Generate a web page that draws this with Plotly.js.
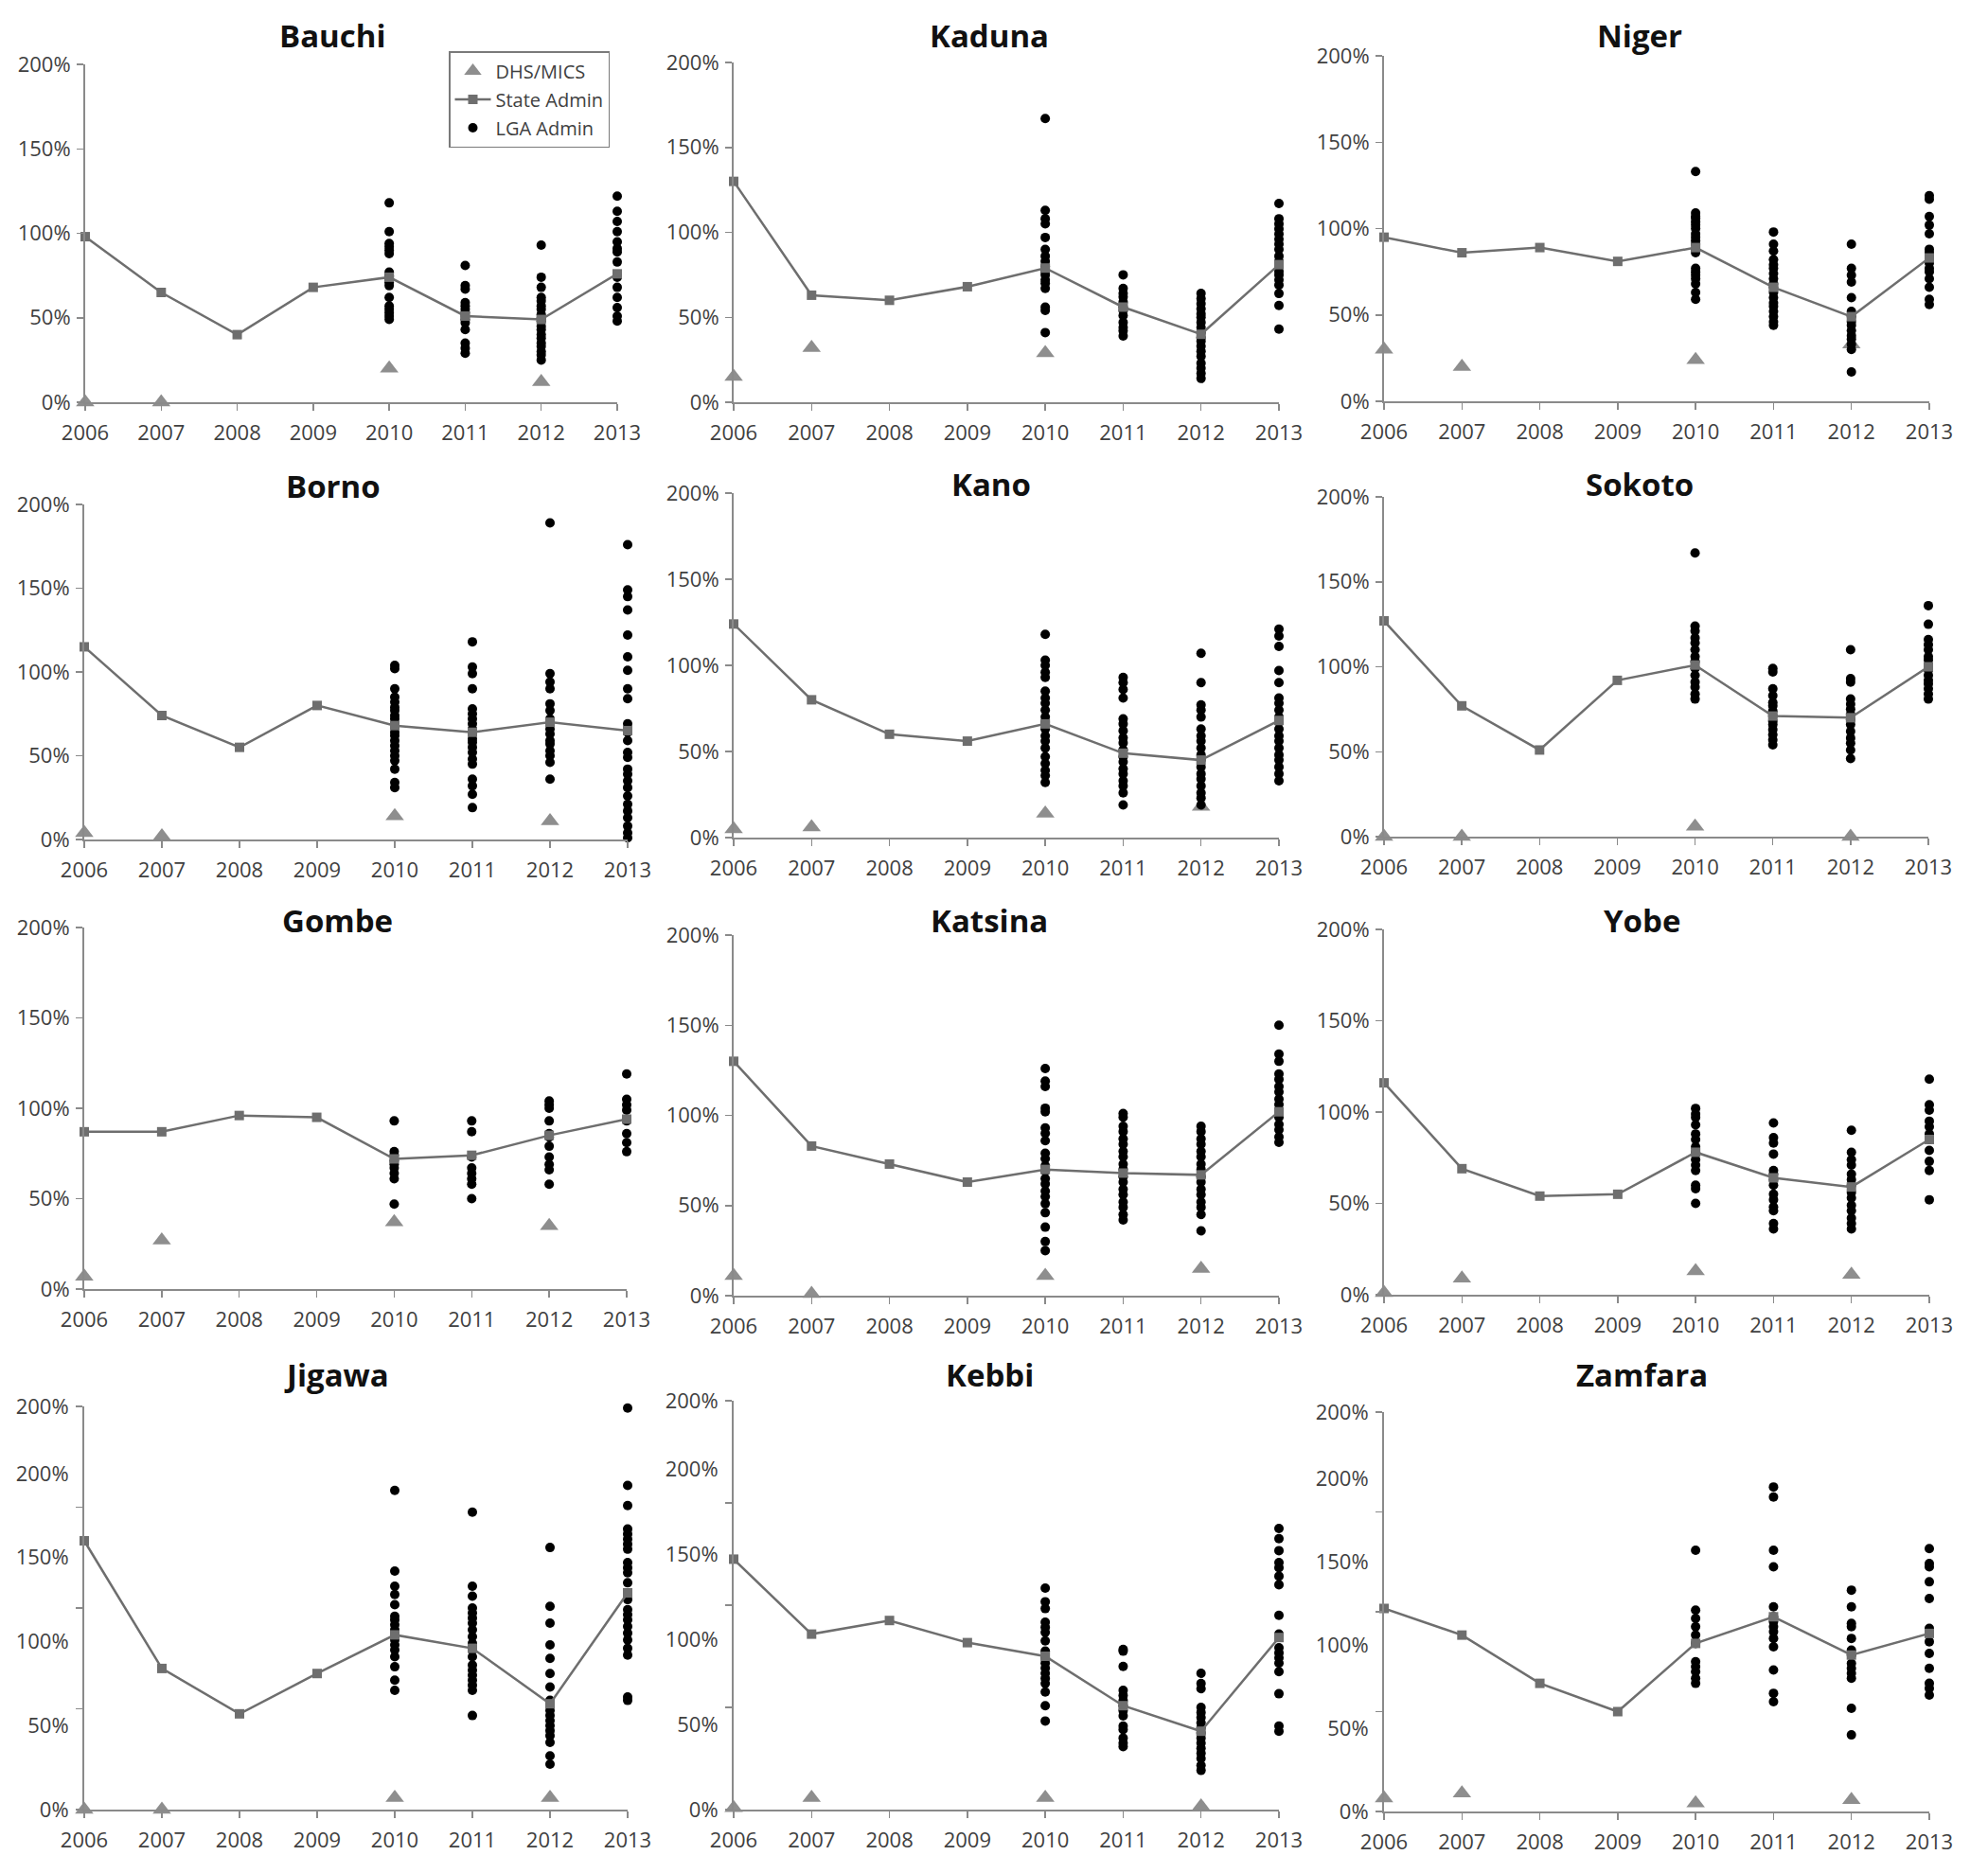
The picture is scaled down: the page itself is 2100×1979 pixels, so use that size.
<!DOCTYPE html>
<html>
<head>
<meta charset="utf-8">
<script src="https://cdn.plot.ly/plotly-3.0.1.min.js"></script>
<style>html,body{margin:0;padding:0;background:#fff;}#chart{width:2100px;height:1979px;}</style>
</head>
<body>
<div id="chart"></div>
<script>
// ---------- DATA ----------
const years = [2006, 2007, 2008, 2009, 2010, 2011, 2012, 2013];
const dhsYears = [2006, 2007, 2010, 2012];
const lgaYears = [2010, 2011, 2012, 2013];

const bauchiState = [98, 65, 40, 68, 74, 51, 49, 76];
const bauchiDHS = [0, 0, 20, 12];
const bauchiLGA = [
  [118,101,94,92,90,88,77,75,74,73,71,69,62,57,55,53,51,49],
  [81,69,67,59,57,55,53,51,49,47,43,35,32,29],
  [93,74,68,62,60,57,55,52,50,48,45,43,40,38,35,33,30,28,25],
  [122,113,107,101,95,91,89,83,74,68,62,56,51,48]
];

const kadunaState = [130, 63, 60, 68, 79, 56, 40, 81];
const kadunaDHS = [15, 32, 29, null];
const kadunaLGA = [
  [167,113,108,105,97,90,86,83,80,77,75,72,70,67,56,54,41],
  [75,67,64,62,59,56,54,51,47,44,42,39],
  [64,61,58,55,52,50,47,44,41,38,36,33,30,27,23,20,17,14],
  [117,108,105,102,99,96,93,90,86,83,80,77,75,72,69,64,57,43]
];

const nigerState = [95, 86, 89, 81, 89, 66, 49, 83];
const nigerDHS = [30, 20, 24, 33];
const nigerLGA = [
  [133,109,107,106,104,102,100,97,95,93,91,88,86,77,75,73,71,68,63,59],
  [98,91,87,82,79,77,74,71,68,66,63,60,57,55,52,49,46,44],
  [91,77,73,69,60,52,49,46,44,41,38,36,33,30,17],
  [119,117,107,102,97,88,86,83,80,77,75,71,66,59,56]
];

const bornoState = [115, 74, 55, 80, 68, 64, 70, 65];
const bornoDHS = [4, 2, 14, 11];
const bornoLGA = [
  [104,102,90,85,82,79,77,74,72,69,67,64,62,59,56,53,50,47,42,34,31],
  [118,103,99,90,78,75,72,69,66,63,60,58,55,52,48,45,36,32,27,19],
  [189,99,94,90,81,77,72,69,66,63,59,57,53,50,46,36],
  [176,149,145,137,122,109,101,90,84,69,64,59,52,49,42,39,35,31,26,21,17,13,8,4,1]
];

const kanoState = [124, 80, 60, 56, 66, 49, 45, 68];
const kanoDHS = [5, 6, 14, 18];
const kanoLGA = [
  [118,103,100,96,93,85,81,78,74,70,67,63,59,56,52,47,43,39,36,32],
  [93,90,86,81,69,66,62,58,55,51,47,44,40,37,33,30,26,19],
  [107,90,77,74,70,63,59,56,52,48,45,41,37,34,30,26,23,19],
  [121,117,111,97,90,81,78,74,70,67,63,59,56,52,48,45,41,37,33]
];

const sokotoState = [127, 77, 51, 92, 101, 71, 70, 100];
const sokotoDHS = [0, 0, 6, 0];
const sokotoLGA = [
  [167,124,121,117,114,110,106,103,99,95,91,88,84,81],
  [99,97,87,83,79,77,74,71,68,66,63,60,57,54],
  [110,93,91,81,78,75,72,69,66,62,58,55,51,46],
  [136,125,116,113,110,106,104,101,98,95,92,90,87,84,81]
];

const gombeState = [87, 87, 96, 95, 72, 74, 85, 94];
const gombeDHS = [7, 27, 37, 35];
const gombeLGA = [
  [93,76,74,71,69,67,64,61,47],
  [93,87,73,67,64,61,58,50],
  [104,102,100,93,86,84,79,73,69,66,58],
  [119,105,102,99,93,86,81,76]
];

const katsinaState = [130, 83, 73, 63, 70, 68, 67, 102];
const katsinaDHS = [11, 1, 11, 15];
const katsinaLGA = [
  [126,119,116,104,102,93,90,86,79,76,72,69,65,62,58,55,51,46,38,30,25],
  [101,99,94,91,87,84,80,77,73,70,66,63,59,56,52,49,45,42],
  [94,91,87,84,80,77,73,70,66,63,59,56,52,49,45,36],
  [150,134,130,123,120,116,113,109,106,102,99,95,92,88,85]
];

const yobeState = [116, 69, 54, 55, 78, 64, 59, 85];
const yobeDHS = [1, 9, 13, 11];
const yobeLGA = [
  [102,99,97,93,88,85,81,78,74,71,68,60,58,50],
  [94,86,83,77,68,66,63,60,55,52,48,46,39,36],
  [90,78,74,71,66,63,60,56,53,49,46,42,39,36],
  [118,104,101,95,92,88,85,79,73,68,52]
];

const jigawaState = [160, 84, 57, 81, 104, 96, 63, 129];
const jigawaDHS = [0, 0, 7, 7];
const jigawaLGA = [
  [190,142,133,128,122,115,113,110,107,104,101,98,95,91,85,77,71],
  [177,133,127,120,117,114,111,107,103,99,95,91,86,83,80,77,74,71,56],
  [156,121,111,98,90,81,73,65,62,59,56,53,50,47,44,40,32,27],
  [239,193,181,167,164,161,158,155,147,144,141,135,128,125,119,116,113,109,105,101,96,92,67,65]
];

const kebbiState = [147, 103, 111, 98, 90, 61, 46, 101];
const kebbiDHS = [1, 7, 7, 2];
const kebbiLGA = [
  [130,122,118,110,107,104,99,93,89,86,83,80,77,74,69,61,52],
  [94,93,84,70,67,64,61,58,55,49,47,42,39,37],
  [80,74,71,60,57,54,51,48,45,42,39,36,33,30,26,23],
  [165,159,152,145,142,137,132,114,103,95,92,89,86,81,68,49,46]
];

const zamfaraState = [122, 106, 77, 60, 101, 117, 94, 107];
const zamfaraDHS = [8, 11, 5, 7];
const zamfaraLGA = [
  [157,121,116,111,106,101,90,87,84,80,77],
  [195,189,157,147,123,117,114,111,108,104,99,85,71,66],
  [133,123,113,111,104,97,94,89,86,83,80,62,46],
  [158,149,147,138,128,110,102,95,86,77,74,70]
];

const tickVals200 = [0, 50, 100, 150, 200];
const tickText200 = ['0%', '50%', '100%', '150%', '200%'];
const tickVals240 = [0, 50, 100, 150, 200, 240];
const tickText240 = ['0%', '50%', '100%', '150%', '200%', '200%'];
const minorTicks240 = [0, 60, 120, 180, 240];

// ---------- LAYOUT ----------
const W = 2100, H = 1979;
const panels = [
  {name:'Bauchi',  st:bauchiState,  dhs:bauchiDHS,  lga:bauchiLGA,  x0:90,   x1:652,  y0:425,  y1:68,   ymax:200, tx:351,  ty:38},
  {name:'Kaduna',  st:kadunaState,  dhs:kadunaDHS,  lga:kadunaLGA,  x0:775,  x1:1351, y0:425,  y1:66,   ymax:200, tx:1045, ty:38},
  {name:'Niger',   st:nigerState,   dhs:nigerDHS,   lga:nigerLGA,   x0:1462, x1:2038, y0:424,  y1:59,   ymax:200, tx:1732, ty:38},
  {name:'Borno',   st:bornoState,   dhs:bornoDHS,   lga:bornoLGA,   x0:89,   x1:663,  y0:887,  y1:533,  ymax:200, tx:352,  ty:513},
  {name:'Kano',    st:kanoState,    dhs:kanoDHS,    lga:kanoLGA,    x0:775,  x1:1351, y0:885,  y1:521,  ymax:200, tx:1047, ty:512},
  {name:'Sokoto',  st:sokotoState,  dhs:sokotoDHS,  lga:sokotoLGA,  x0:1462, x1:2037, y0:884,  y1:525,  ymax:200, tx:1732, ty:512},
  {name:'Gombe',   st:gombeState,   dhs:gombeDHS,   lga:gombeLGA,   x0:89,   x1:662,  y0:1362, y1:980,  ymax:200, tx:356,  ty:973},
  {name:'Katsina', st:katsinaState, dhs:katsinaDHS, lga:katsinaLGA, x0:775,  x1:1351, y0:1369, y1:988,  ymax:200, tx:1045, ty:973},
  {name:'Yobe',    st:yobeState,    dhs:yobeDHS,    lga:yobeLGA,    x0:1462, x1:2038, y0:1368, y1:982,  ymax:200, tx:1734, ty:973},
  {name:'Jigawa',  st:jigawaState,  dhs:jigawaDHS,  lga:jigawaLGA,  x0:89,   x1:663,  y0:1912, y1:1486, ymax:240, tx:355,  ty:1452},
  {name:'Kebbi',   st:kebbiState,   dhs:kebbiDHS,   lga:kebbiLGA,   x0:775,  x1:1351, y0:1912, y1:1480, ymax:240, tx:1045, ty:1452},
  {name:'Zamfara', st:zamfaraState, dhs:zamfaraDHS, lga:zamfaraLGA, x0:1462, x1:2038, y0:1914, y1:1492, ymax:240, tx:1734, ty:1452}
];

const AXIS = '#8a8a8a';
const TICKFONT = {family:'Open Sans, sans-serif', size:22, color:'#404040'};
const DHS_COLOR = '#8e8e8e';
const STATE_COLOR = '#6e6e6e';

const traces = [];
const layout = {
  width: W, height: H,
  margin: {l:0, r:0, t:0, b:0},
  paper_bgcolor: '#ffffff',
  plot_bgcolor: 'rgba(0,0,0,0)',
  showlegend: true,
  legend: {
    x: 474 / W, y: 1 - 54 / H, xanchor: 'left', yanchor: 'top',
    bordercolor: '#7a7a7a', borderwidth: 1.5, bgcolor: '#ffffff',
    font: {family:'Open Sans, sans-serif', size:20, color:'#404040'},
    tracegroupgap: 1, itemwidth: 38
  },
  annotations: []
};

panels.forEach((p, i) => {
  const n = i === 0 ? '' : String(i + 1);
  const xa = 'x' + n, ya = 'y' + n;
  const show = i === 0;

  // DHS/MICS triangles
  const dx = [], dy = [];
  dhsYears.forEach((yr, k) => { if (p.dhs[k] !== null) { dx.push(yr); dy.push(p.dhs[k]); } });
  traces.push({
    type:'scatter', mode:'markers', x:dx, y:dy, xaxis:xa, yaxis:ya,
    name:'DHS/MICS', legendgroup:'dhs', legendrank:1, showlegend:show, cliponaxis:false,
    marker:{symbol:'triangle-up', size:17, color:DHS_COLOR}
  });

  // LGA Admin dots
  const lx = [], ly = [];
  lgaYears.forEach((yr, k) => { p.lga[k].forEach(v => { lx.push(yr); ly.push(v); }); });
  traces.push({
    type:'scatter', mode:'markers', x:lx, y:ly, xaxis:xa, yaxis:ya,
    name:'LGA Admin', legendgroup:'lga', legendrank:3, showlegend:show, cliponaxis:false,
    marker:{symbol:'circle', size:10, color:'#000000'}
  });

  // State Admin line
  traces.push({
    type:'scatter', mode:'lines+markers', x:years, y:p.st, xaxis:xa, yaxis:ya,
    name:'State Admin', legendgroup:'state', legendrank:2, showlegend:show, cliponaxis:false,
    line:{color:STATE_COLOR, width:2.5},
    marker:{symbol:'square', size:10, color:STATE_COLOR}
  });

  const xKey = 'xaxis' + n, yKey = 'yaxis' + n;
  layout[xKey] = {
    domain:[p.x0 / W, p.x1 / W], anchor: ya,
    range:[2006, 2013], tickvals: years, ticktext: years.map(String),
    showline:true, linecolor:AXIS, linewidth:2, mirror:false,
    ticks:'outside', ticklen:7, tickwidth:1.5, tickcolor:AXIS,
    showgrid:false, zeroline:false, fixedrange:true,
    tickfont: TICKFONT, ticklabelstandoff: 5
  };
  const yax = {
    domain:[1 - p.y0 / H, 1 - p.y1 / H], anchor: xa,
    range:[0, p.ymax],
    showline:true, linecolor:AXIS, linewidth:2,
    showgrid:false, zeroline:false, fixedrange:true,
    tickfont: TICKFONT
  };
  if (p.ymax === 200) {
    Object.assign(yax, {tickmode:'array', tickvals:tickVals200, ticktext:tickText200,
      ticks:'outside', ticklen:7, tickwidth:1.5, tickcolor:AXIS, ticklabelstandoff:2});
  } else {
    Object.assign(yax, {tickmode:'array', tickvals:tickVals240, ticktext:tickText240,
      ticks:'', ticklabelstandoff:10,
      minor:{tickmode:'array', tickvals:minorTicks240, ticks:'outside', ticklen:7, tickwidth:1.5, tickcolor:AXIS, showgrid:false}});
  }
  layout[yKey] = yax;

  layout.annotations.push({
    text:'<b>' + p.name + '</b>', xref:'paper', yref:'paper',
    x: p.tx / W, y: 1 - p.ty / H, xanchor:'center', yanchor:'middle',
    showarrow:false, font:{family:'Open Sans, sans-serif', size:33, color:'#111111'}
  });
});

Plotly.newPlot('chart', traces, layout, {displayModeBar:false, staticPlot:true});
</script>
</body>
</html>
